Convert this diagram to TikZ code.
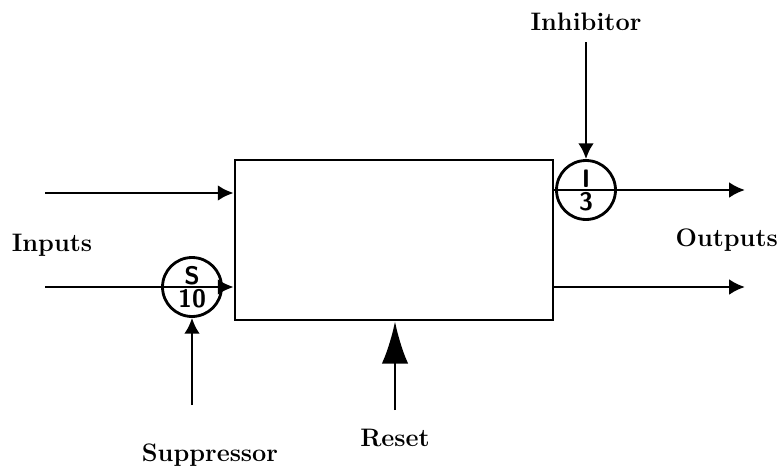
\documentclass[tikz,border=0pt]{standalone}
\usetikzlibrary{arrows.meta,shapes.multipart}
\begin{document}
\begin{tikzpicture}
[
    x=0.02cm, y=-0.02cm,
    line width=1.6pt,
    arr/.style={-{Latex[length=9pt,width=9pt]}},
    bigarr/.style={-{Latex[length=24pt,width=15pt]}},
    gate/.style={draw, circle split, minimum size=1.18cm, inner sep=0.5pt, font=\sffamily\bfseries\Large},
    lbl/.style={font=\bfseries\Large}
]
    \useasboundingbox (0,0) rectangle (782,470);
    \node [draw, minimum width=6.36cm, minimum height=3.2cm] (core) at (394,240) {};
    \node [gate] (sup) at (192,287) {S \nodepart{lower} 10};
    \node [gate] (inh) at (586,190) {I \nodepart{lower} 3};
    \coordinate (in1) at (45,193);
    \coordinate (in2) at (45,287);
    \coordinate (out1) at (745,190);
    \coordinate (out2) at (745,287);
    \coordinate (inhsrc) at (586,42);
    \coordinate (supsrc) at (192,405);
    \coordinate (rstsrc) at (395,410);
    \draw [arr] (in1) -- (core.west |- in1);
    \draw [arr] (in2) -- (core.west |- in2);
    \draw [arr] (core.east |- inh) -- (out1);
    \draw [arr] (core.east |- out2) -- (out2);
    \draw [arr] (inhsrc) -- (inh.north);
    \draw [arr] (supsrc) -- (sup.south);
    \draw [bigarr] (rstsrc) -- (core.south -| rstsrc);
    \node [lbl] (inputs) at (52,245) {Inputs};
    \node [lbl, anchor=east, inner sep=1pt] (outputs) at (781,240) {Outputs};
    \node [lbl] (inhlbl) at (586,22) {Inhibitor};
    \node [lbl] (suplbl) at (210,455) {Suppressor};
    \node [lbl] (rstlbl) at (395,438) {Reset};
\end{tikzpicture}
\end{document}
